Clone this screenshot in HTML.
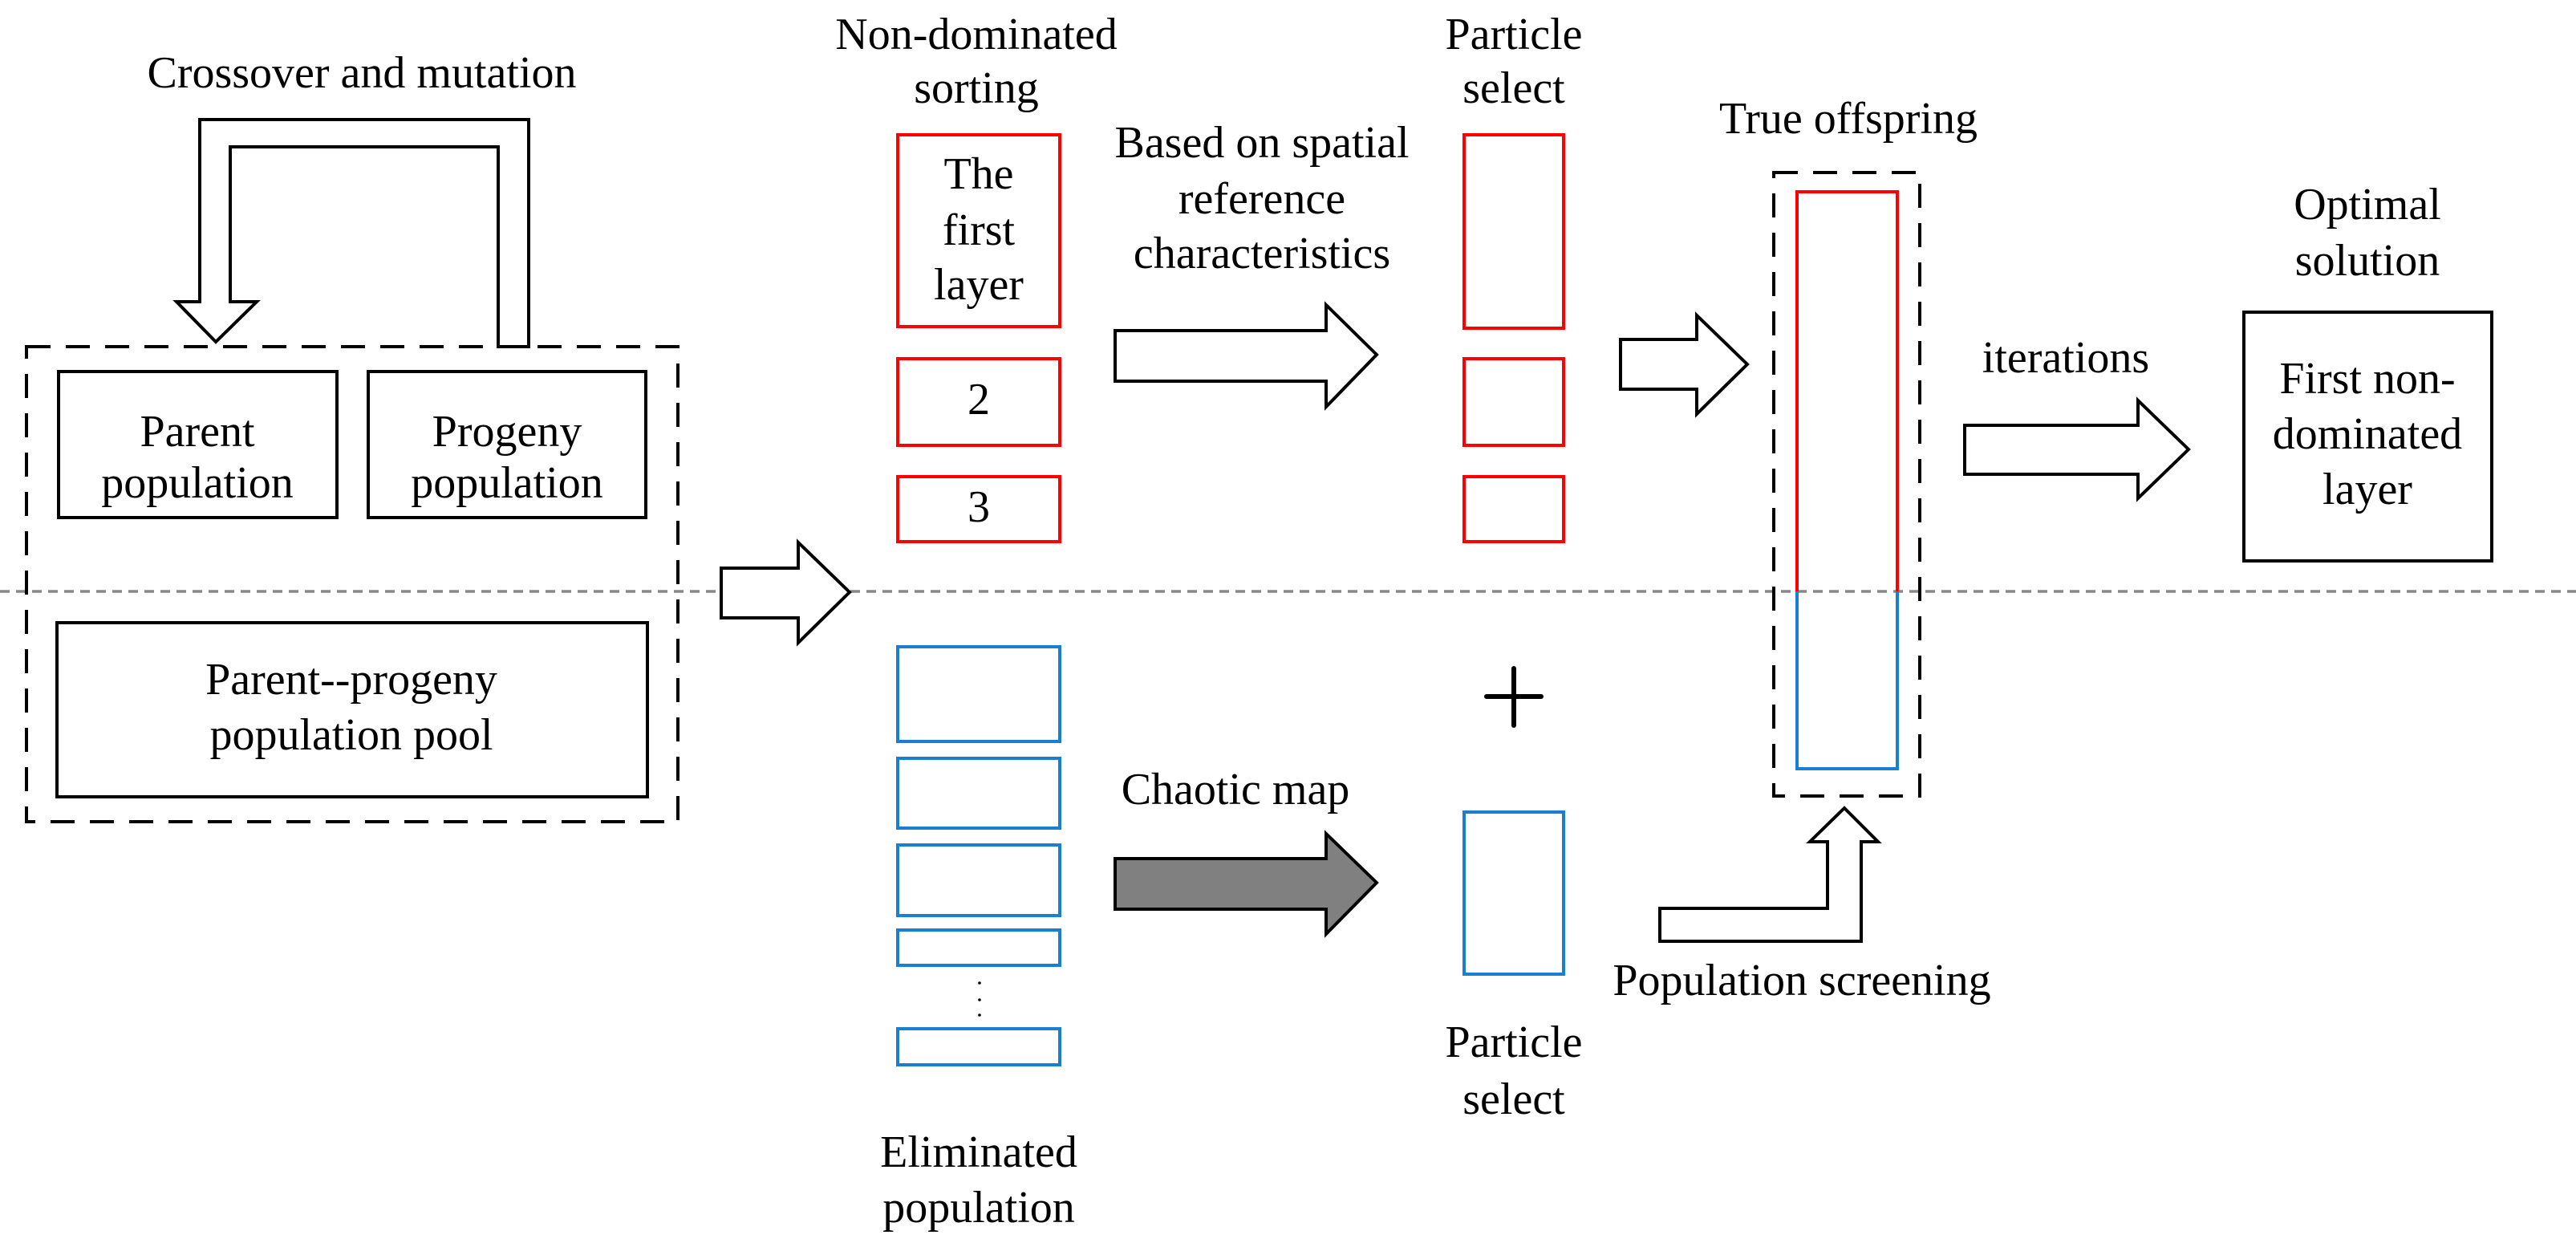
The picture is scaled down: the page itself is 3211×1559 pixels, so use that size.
<!DOCTYPE html>
<html><head><meta charset="utf-8"><style>
html,body{margin:0;padding:0;background:#fff;}
svg{display:block;}
text{font-family:"Liberation Serif",serif;font-size:56px;fill:#000;text-anchor:middle;}
</style></head><body>
<svg width="3211" height="1559" viewBox="0 0 3211 1559" xmlns="http://www.w3.org/2000/svg">
<line x1="0" y1="737" x2="3211" y2="737" stroke="#888" stroke-width="3.5" stroke-dasharray="12 8"/>

<polygon points="659,432 659,149 249,149 249,376 220,376 269,426 320,376 287,376 287,183 621,183 621,432" fill="#fff" stroke="#000" stroke-width="4" stroke-linejoin="miter"/>
<text x="451" y="109">Crossover and mutation</text>

<rect x="33" y="432" width="812" height="592" fill="none" stroke="#000" stroke-width="4" stroke-dasharray="30 19"/>
<rect x="73" y="463" width="347" height="182" fill="#fff" stroke="#000" stroke-width="4"/>
<rect x="459" y="463" width="346" height="182" fill="#fff" stroke="#000" stroke-width="4"/>
<rect x="71" y="776" width="736" height="217" fill="#fff" stroke="#000" stroke-width="4"/>
<text x="246" y="556">Parent</text><text x="246" y="620">population</text>
<text x="632" y="556">Progeny</text><text x="632" y="620">population</text>
<text x="438" y="865">Parent--progeny</text><text x="438" y="934">population pool</text>

<polygon points="899,708 995,708 995,676 1059,738 995,801 995,770 899,770" fill="#fff" stroke="#000" stroke-width="4"/>

<text x="1217" y="61">Non-dominated</text><text x="1217" y="128">sorting</text>
<g fill="none" stroke="#f00" stroke-width="4">
<rect x="1119" y="168" width="202" height="239"/>
<rect x="1119" y="447" width="202" height="108"/>
<rect x="1119" y="594" width="202" height="81"/>
<rect x="1825" y="168" width="124" height="241"/>
<rect x="1825" y="447" width="124" height="108"/>
<rect x="1825" y="594" width="124" height="81"/>
</g>
<text x="1220" y="235">The</text><text x="1220" y="305">first</text><text x="1220" y="373">layer</text>
<text x="1220" y="516">2</text><text x="1220" y="650">3</text>

<text x="1573" y="196">Based on spatial</text><text x="1573" y="266">reference</text><text x="1573" y="334">characteristics</text>
<polygon points="1390,412 1653,412 1653,380 1716,442 1653,507 1653,475 1390,475" fill="#fff" stroke="#000" stroke-width="4"/>
<text x="1887" y="61">Particle</text><text x="1887" y="128">select</text>

<g fill="none" stroke="#1a7fd0" stroke-width="4">
<rect x="1119" y="806" width="202" height="118"/>
<rect x="1119" y="945" width="202" height="87"/>
<rect x="1119" y="1053" width="202" height="88"/>
<rect x="1119" y="1159" width="202" height="44"/>
<rect x="1119" y="1282" width="202" height="45"/>
<rect x="1825" y="1012" width="124" height="202"/>
</g>
<circle cx="1221" cy="1225" r="1.8" fill="#000"/><circle cx="1221" cy="1246" r="1.8" fill="#000"/><circle cx="1221" cy="1265" r="1.8" fill="#000"/>
<text x="1220" y="1454">Eliminated</text><text x="1220" y="1523">population</text>
<text x="1540" y="1002">Chaotic map</text>
<polygon points="1390,1070 1653,1070 1653,1039 1716,1100 1653,1164 1653,1133 1390,1133" fill="#808080" stroke="#000" stroke-width="4"/>
<line x1="1853" y1="868" x2="1921" y2="868" stroke="#000" stroke-width="6" stroke-linecap="round"/>
<line x1="1887" y1="833" x2="1887" y2="904" stroke="#000" stroke-width="6" stroke-linecap="round"/>
<text x="1887" y="1317">Particle</text><text x="1887" y="1388">select</text>

<polygon points="2020,423 2115,423 2115,393 2178,454 2115,516 2115,485 2020,485" fill="#fff" stroke="#000" stroke-width="4"/>

<text x="2304" y="166">True offspring</text>
<rect x="2211" y="215" width="182" height="777" fill="none" stroke="#000" stroke-width="4" stroke-dasharray="30 19"/>
<polyline points="2240,737 2240,239 2365,239 2365,737" fill="none" stroke="#f00" stroke-width="4"/>
<polyline points="2240,737 2240,958 2365,958 2365,737" fill="none" stroke="#1a7fd0" stroke-width="4"/>

<polygon points="2069,1132 2278,1132 2278,1049 2256,1049 2299,1007 2341,1049 2320,1049 2320,1173 2069,1173" fill="#fff" stroke="#000" stroke-width="4"/>
<text x="2246" y="1240">Population screening</text>

<text x="2575" y="464">iterations</text>
<polygon points="2449,530 2665,530 2665,499 2728,560 2665,621 2665,591 2449,591" fill="#fff" stroke="#000" stroke-width="4"/>

<text x="2951" y="273">Optimal</text><text x="2951" y="343">solution</text>
<rect x="2797" y="389" width="309" height="310" fill="#fff" stroke="#000" stroke-width="4"/>
<text x="2951" y="490">First non-</text><text x="2951" y="559">dominated</text><text x="2951" y="628">layer</text>
</svg>
</body></html>
